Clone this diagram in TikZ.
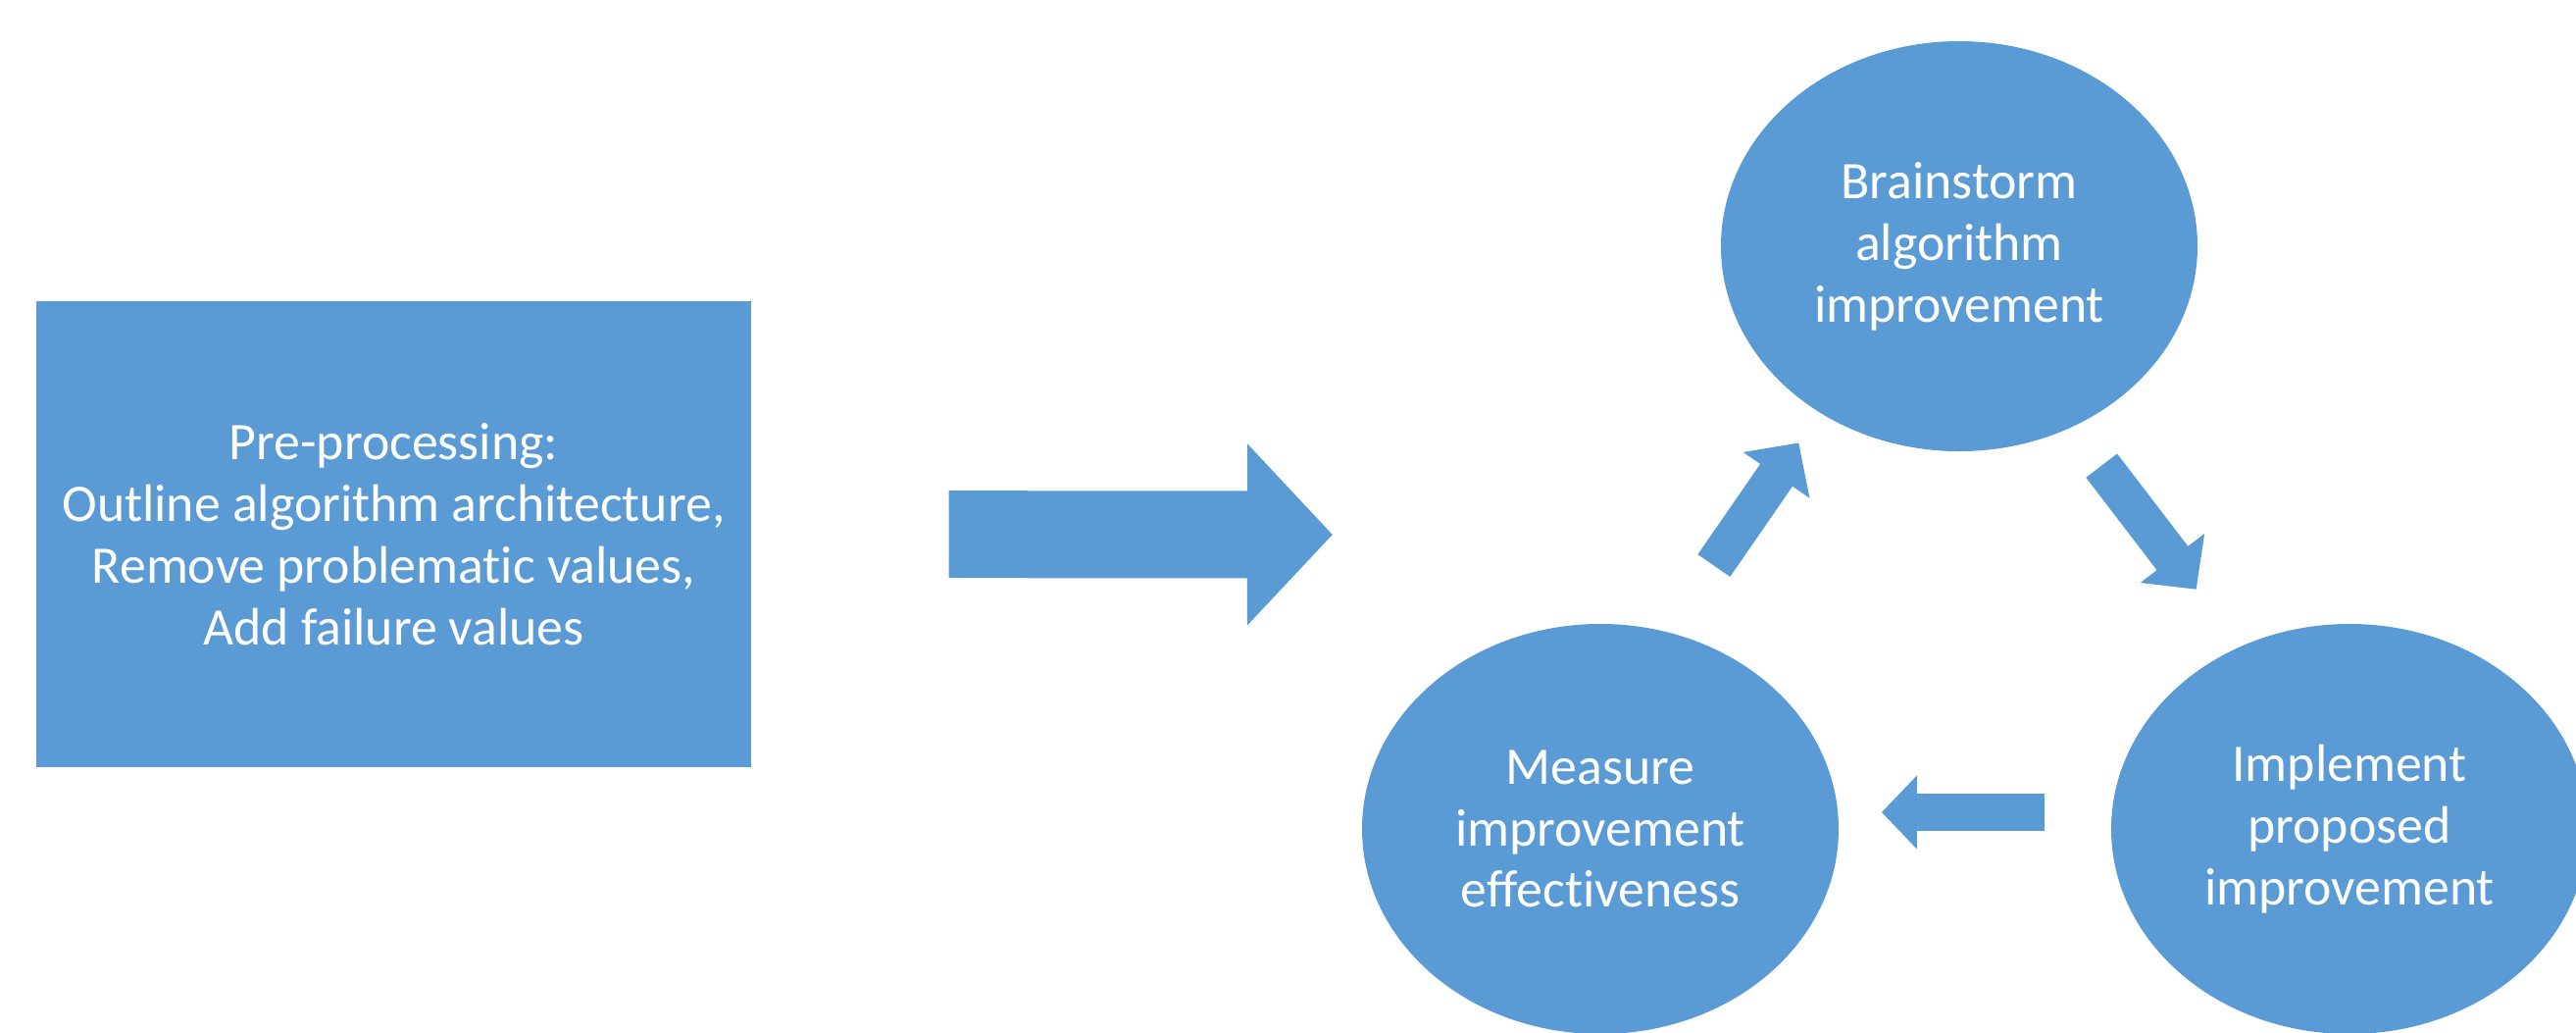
\documentclass[tikz,border=0pt]{standalone}
\usepackage{fontspec}
\setmainfont{Carlito}[Ligatures=NoCommon]
\usetikzlibrary{arrows.meta, shapes.geometric}
\definecolor{officeblue}{HTML}{5B9BD5}

\begin{document}
\begin{tikzpicture}[
    x=0.1mm, y=-0.1mm,
    every node/.style={fill=officeblue, text=white, align=center, inner sep=0pt,
        font=\fontsize{15.3pt}{17.9pt}\selectfont},
    box/.style={rectangle, minimum width=72.9mm, minimum height=47.5mm},
    blob/.style={ellipse, minimum width=48.6mm, minimum height=41.8mm},
    flow/.style={officeblue, line width=4mm, -{Triangle[width=8mm, length=4mm]}},
    bigflow/.style={officeblue, line width=8.9mm, -{Triangle[width=18mm, length=8.7mm]}},
    ]

\useasboundingbox (0,0) rectangle (2627,1052);

% Nodes
\node[box] (prep) at (401.5,544.5) {Pre-processing:\\Outline algorithm architecture,\\Remove problematic values,\\Add failure values};
\node[blob] (brainstorm) at (1998,251) {Brainstorm\\algorithm\\improvement};
\node[blob] (implement) at (2396,845) {Implement\\proposed\\improvement};
\node[blob] (measure) at (1632,845) {Measure\\improvement\\effectiveness};
\coordinate (cycle) at (1359,545);

% Arrows
\draw[bigflow, shorten <=20.1mm] (prep.east) -- (cycle);
\draw[flow, shorten <=4.9mm, shorten >=7.3mm] (brainstorm.302.2) -- (implement.121.8);
\draw[flow, line width=3.8mm, -{Triangle[width=7.3mm, length=3.6mm]}, shorten <=6.8mm, shorten >=4.4mm] (implement.176) -- (measure.4);
\draw[flow, shorten <=8.2mm, shorten >=3.7mm] (measure.71.5) -- (brainstorm.230.6);

\end{tikzpicture}
\end{document}
